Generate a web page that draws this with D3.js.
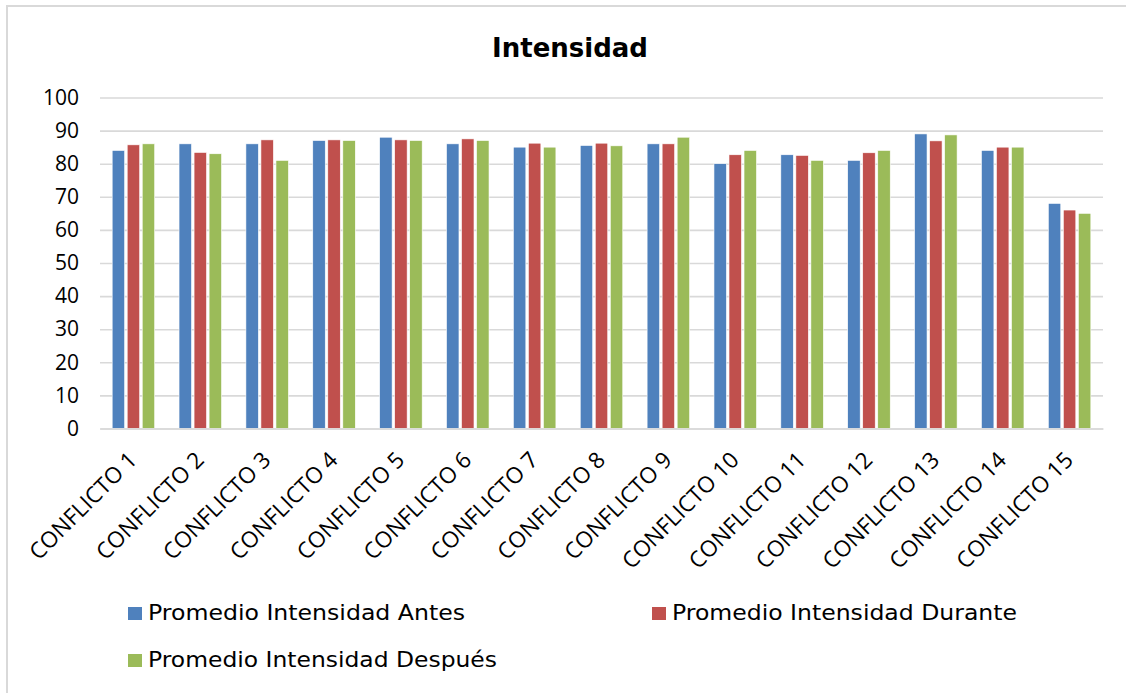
<!DOCTYPE html>
<html><head><meta charset="utf-8">
<script src="https://cdn.jsdelivr.net/npm/d3@7"></script>
<style>body{margin:0;background:#fff;}svg{display:block;}</style>
</head><body>
<svg id="c" width="1126" height="693"></svg>
<script>
const categories = ["CONFLICTO 1","CONFLICTO 2","CONFLICTO 3","CONFLICTO 4","CONFLICTO 5","CONFLICTO 6","CONFLICTO 7","CONFLICTO 8","CONFLICTO 9","CONFLICTO 10","CONFLICTO 11","CONFLICTO 12","CONFLICTO 13","CONFLICTO 14","CONFLICTO 15"];
const seriesNames = ["Promedio Intensidad Antes","Promedio Intensidad Durante","Promedio Intensidad Después"];
const antes   = [84, 86, 86, 87, 88, 86, 85, 85.5, 86, 80, 82.7, 81, 89, 84, 68];
const durante = [85.7, 83.4, 87.2, 87.2, 87.2, 87.5, 86.2, 86.2, 86, 82.7, 82.5, 83.3, 86.9, 85, 66];
const despues = [86, 83, 81, 87, 87, 87, 85, 85.4, 88, 84, 81, 84, 88.7, 85, 65];
const yTicks = [0,10,20,30,40,50,60,70,80,90,100];
const colors = ["#4F81BD","#C0504D","#9BBB59"];
const title = "Intensidad";

const series = [antes, durante, despues];
const svg = d3.select("#c");
const m = {left:100, right:1103, top:97.5, bottom:428.5};

svg.append("rect").attr("x",7).attr("y",6).attr("width",1130).attr("height",700)
  .attr("fill","#fff").attr("stroke","#d9d9d9").attr("stroke-width",2);

svg.append("text").attr("x",570).attr("y",57).attr("text-anchor","middle")
  .style("font-family","'DejaVu Sans',sans-serif").style("font-weight","bold")
  .style("font-size","26px").attr("fill","#000").text(title);

const x0 = d3.scaleBand().domain(categories).range([m.left,m.right]).paddingInner(0.364).paddingOuter(0.182);
const x1 = d3.scaleBand().domain([0,1,2]).range([0,x0.bandwidth()]).paddingInner(0.17);
const y = d3.scaleLinear().domain([0,100]).range([m.bottom,m.top]);

// gridlines
const yAxis = d3.axisLeft(y).tickValues(yTicks).tickSize(-(m.right-m.left)).tickPadding(21);
const gy = svg.append("g").attr("transform",`translate(${m.left},0)`).call(yAxis);
gy.select(".domain").remove();
gy.selectAll(".tick line").attr("stroke","#d9d9d9").attr("stroke-width",1.6);
gy.selectAll(".tick text").style("font-family","'Open Sans',sans-serif").style("font-size","21px").attr("fill","#000");

// bars
const groups = svg.append("g").selectAll("g").data(categories).join("g")
  .attr("transform",d=>`translate(${x0(d)},0)`);
groups.selectAll("rect").data((d,i)=>series.map((s,k)=>({k, v:s[i]}))).join("rect")
  .attr("x",d=>x1(d.k)).attr("width",x1.bandwidth())
  .attr("y",d=>y(d.v)).attr("height",d=>y(0)-y(d.v))
  .attr("fill",d=>colors[d.k]).attr("stroke","#fff").attr("stroke-width",0.6);

// x axis
const xAxis = d3.axisBottom(x0).tickSize(0).tickPadding(0);
const gx = svg.append("g").attr("transform",`translate(0,${m.bottom})`).call(xAxis);
gx.select(".domain").attr("stroke","#d9d9d9").attr("stroke-width",1.6);
gx.selectAll(".tick text")
  .style("font-family","'Open Sans',sans-serif").style("font-size","22.5px").attr("fill","#000")
  .attr("text-anchor","end").attr("dy",null).attr("y",0)
  .attr("transform","translate(5,33) rotate(-45)");

// legend
const legPos = [[128,620],[652,620],[128,667]];
const legLen = [317,345,349];
const leg = svg.append("g").selectAll("g").data(seriesNames).join("g")
  .attr("transform",(d,i)=>`translate(${legPos[i][0]},${legPos[i][1]})`);
leg.append("rect").attr("x",0).attr("y",-13).attr("width",14).attr("height",13).attr("fill",(d,i)=>colors[i]);
leg.append("text").attr("x",20).attr("y",0)
  .attr("textLength",(d,i)=>legLen[i]).attr("lengthAdjust","spacingAndGlyphs")
  .style("font-family","'DejaVu Sans',sans-serif").style("font-size","20.5px").attr("fill","#000")
  .text(d=>d);
</script>
</body></html>
